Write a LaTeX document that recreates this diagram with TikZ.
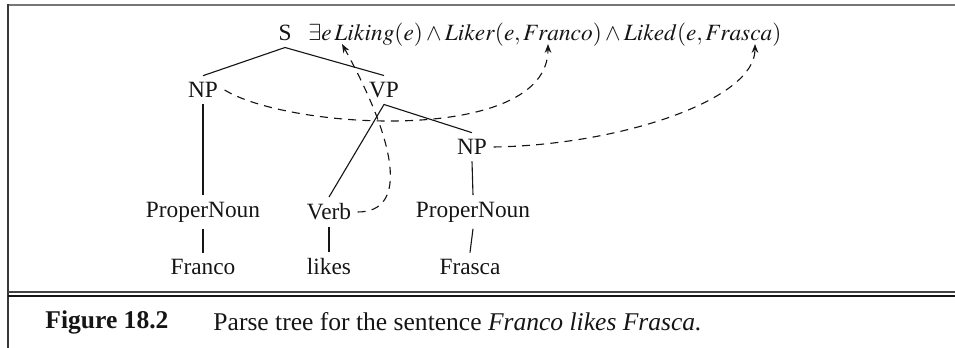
\documentclass[tikz,border=0pt]{standalone}
\usepackage{mathptmx}
\usepackage{fontspec}
\setmainfont{Liberation Serif}
\usetikzlibrary{arrows.meta,positioning,calc}
\definecolor{ink}{HTML}{151515}
\definecolor{rule}{HTML}{767676}

\begin{document}
\begin{tikzpicture}[x=0.45pt,y=-0.45pt,
  cat/.style={inner sep=2.8pt, font=\fontsize{10.5}{12}\selectfont, text=ink},
  branch/.style={draw=ink, line width=0.5pt},
  link/.style={draw=ink, line width=0.5pt, dash pattern=on 3.6pt off 2.8pt, -{Stealth[length=4pt,width=3pt]}},
  capline/.style={anchor=west, inner sep=0pt, font=\fontsize{11.5}{13}\selectfont, text=ink}]
\useasboundingbox (0,0) rectangle (955,348);
% frame
\draw[rule, line width=1pt] (8,5) -- (955,5);
\draw[ink!85, line width=0.6pt] (8,4.5) -- (8,348);
\draw[ink!80, line width=0.7pt] (8,292) -- (955,292);
\draw[ink, line width=0.5pt] (8,296) -- (955,296);
% tree
\foreach \n/\x/\y/\t in {s/285/33/S, np1/203/90/NP, vp/384/90/VP, np2/472/147/NP,
  pn1/203/212/ProperNoun, verb/329/212/Verb, pn2/473/212/ProperNoun,
  franco/203/267/Franco, likes/329/267/likes, frasca/470/267/Frasca}
  \node[cat] (\n) at (\x,\y) {\t};
\foreach \a/\b in {s/np1, s/vp, np1/pn1, vp/verb, vp/np2, np2/pn2, pn1/franco, verb/likes, pn2/frasca}
  \draw[branch] (\a.south) -- (\b.north);
% semantics
\node[cat, anchor=base west, inner sep=0pt] (sem) at ($(s.base)+(23,0)$) {$\exists e\,Liking(e)\wedge Liker(e,Franco)\wedge Liked(e,Frasca)$};
\coordinate (tliking) at (342,44);
\coordinate (tfranco) at (548,44);
\coordinate (tfrasca) at (755,44);
\draw[link] (np1.east) .. controls (290,130) and (548,145) .. (tfranco);
\draw[link] (np2.east) .. controls (620,145) and (755,100) .. (tfrasca);
\draw[link] (verb.east) .. controls (410,212) and (395,140) .. (tliking);
% caption
\node[capline, font=\fontsize{11.5}{13}\selectfont\bfseries] (fig) at (45,322) {Figure 18.2};
\node[capline] (caption) at (213,322) {Parse tree for the sentence \textit{Franco likes Frasca.}};
\end{tikzpicture}
\end{document}
